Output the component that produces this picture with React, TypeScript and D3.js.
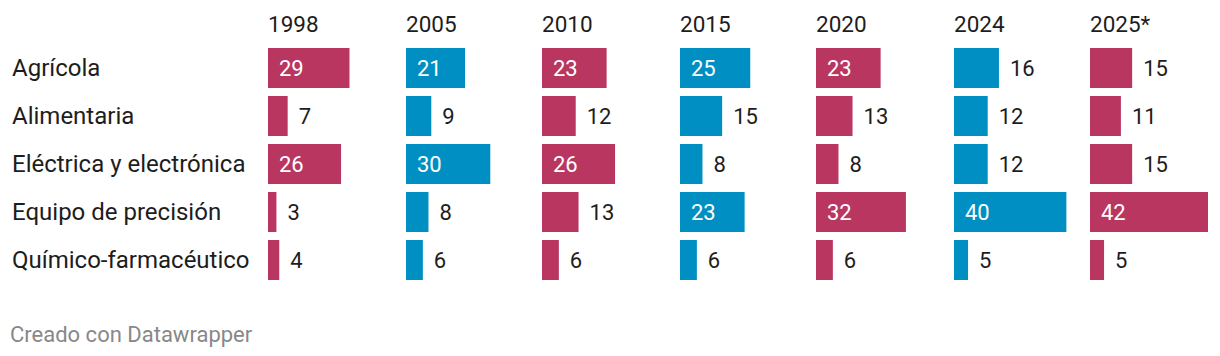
import React from "react";
import * as d3 from "d3";

const categories = ["Agrícola", "Alimentaria", "Eléctrica y electrónica", "Equipo de precisión", "Químico-farmacéutico"];
const years = ["1998", "2005", "2010", "2015", "2020", "2024", "2025*"];
const v1998 = [29, 7, 26, 3, 4];
const v2005 = [21, 9, 30, 8, 6];
const v2010 = [23, 12, 26, 13, 6];
const v2015 = [25, 15, 8, 23, 6];
const v2020 = [23, 13, 8, 32, 6];
const v2024 = [16, 12, 12, 40, 5];
const v2025 = [15, 11, 15, 42, 5];
const seriesValues = [v1998, v2005, v2010, v2015, v2020, v2024, v2025];
const RED = "#b8365f";
const BLUE = "#008fc3";

export default function App() {
  const width = 1220, height = 356;
  const colStarts = [268, 406, 542, 680, 816, 954, 1090];
  const colX = d3.scaleOrdinal<string, number>().domain(years).range(colStarts);
  const x = d3.scaleLinear().domain([0, 42]).range([0, 118]);
  const yb = d3.scaleBand().domain(categories).range([48, 48 + 48 * 5]);
  const font = "Roboto, 'Noto Sans', sans-serif";
  return (
    <svg width={width} height={height} style={{ position: "absolute", left: 0, top: 0, background: "#fff" }} fontFamily={font}>
      {categories.map((c) => (
        <text key={c} x={12} y={(yb(c) as number) + 28} fontSize={24} fill="#1d1d1d">{c}</text>
      ))}
      {years.map((yr, i) => {
        const cx = colX(yr) as number;
        const color = i % 2 === 0 ? RED : BLUE;
        return (
          <g key={yr}>
            <text x={cx} y={32} fontSize={22.5} fill="#1d1d1d">{yr}</text>
            {categories.map((c, j) => {
              const v = seriesValues[i][j];
              const w = x(v);
              const top = yb(c) as number;
              const inside = w > 52;
              return (
                <g key={c}>
                  <rect x={cx} y={top} width={w} height={40} fill={color} />
                  <text x={inside ? cx + 11 : cx + w + 11} y={top + 28} fontSize={22} fill={inside ? "#ffffff" : "#1d1d1d"}>{v}</text>
                </g>
              );
            })}
          </g>
        );
      })}
      <text x={10} y={342} fontSize={22} fill="#888888">Creado con Datawrapper</text>
    </svg>
  );
}
